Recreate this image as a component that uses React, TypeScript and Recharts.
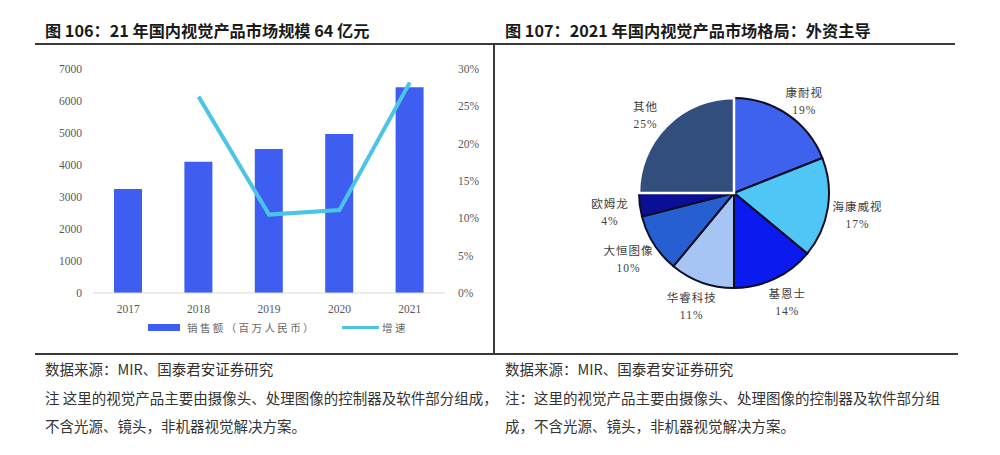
import React from "react";
import {
  Bar, Cell, ComposedChart, Legend, Line, Pie, PieChart, XAxis, YAxis,
} from "recharts";

// left chart: sales (million RMB) and growth (%)
const YEARS = ["2017", "2018", "2019", "2020", "2021"];
const SALES = [3250, 4100, 4500, 4970, 6430];
const GROWTH: (number | null)[] = [null, 26.3, 10.5, 11.1, 28.2];
const SALES_TICKS = [0, 1000, 2000, 3000, 4000, 5000, 6000, 7000];
const GROWTH_TICKS = [0, 5, 10, 15, 20, 25, 30];

// right chart: 2021 market share
const VENDORS = ["康耐视", "海康威视", "基恩士", "华睿科技", "大恒图像", "欧姆龙", "其他"];
const SHARES = [19, 17, 14, 11, 10, 4, 25];
const VENDOR_COLORS = ["#3E62EE", "#4FC6F5", "#0B1BF0", "#A6C5F4", "#2660D0", "#0A0F96", "#324E7C"];

const SERIF = '"Liberation Serif", "Noto Sans CJK SC", serif';
const SANS = '"Noto Sans CJK SC", "Noto Sans", sans-serif';

const barData = YEARS.map((y, i) => ({ year: y, sales: SALES[i], growth: GROWTH[i] }));
const pieData = VENDORS.map((v, i) => ({ name: v, value: SHARES[i] }));

const RAD = Math.PI / 180;

function LegendContent(props: any) {
  // bar swatch first, then the line
  const items = [...(props.payload ?? [])].sort(
    (a: any, b: any) => (a.type === "line" ? 1 : 0) - (b.type === "line" ? 1 : 0)
  );
  return (
    <div style={{ display: "flex", alignItems: "center", height: 20, paddingLeft: 148 }}>
      {items.map((it: any) => {
        const isLine = it.type === "line";
        return (
          <div key={it.value} style={{ display: "flex", alignItems: "center", marginRight: 26 }}>
            <span
              style={{
                width: isLine ? 37 : 32, height: isLine ? 3 : 7,
                background: it.color, display: "inline-block",
              }}
            />
            <span
              style={{
                fontFamily: SANS, fontSize: 10.5, color: "#666",
                marginLeft: isLine ? 3 : 7, letterSpacing: 2.4,
              }}
            >
              {it.value}
            </span>
          </div>
        );
      })}
    </div>
  );
}

// labels sit on a slightly wide ellipse round the pie, like the office-chart "outside end" labels
function PieLabel(props: any) {
  const { cx, cy, midAngle, outerRadius, name, value } = props;
  const x = cx + (outerRadius + 30) * Math.cos(-midAngle * RAD);
  const y = cy + (outerRadius + 21) * Math.sin(-midAngle * RAD) + 4;
  return (
    <text x={x} y={y} textAnchor="middle" fill="#404040" fontFamily={SERIF} fontSize={11.5} letterSpacing={1}>
      <tspan x={x} dy={-4}>{name}</tspan>
      <tspan x={x} dy={17}>{value}%</tspan>
    </text>
  );
}

const rule = (left: number, top: number, width: number, height: number) => (
  <div style={{ position: "absolute", left, top, width, height, background: "#3a3a3a" }} />
);

export default function App() {
  const titleStyle: React.CSSProperties = {
    position: "absolute", top: 19, fontFamily: SANS, fontWeight: 700, fontSize: 16.2,
    color: "#1a1a1a", whiteSpace: "nowrap", lineHeight: "22px",
  };
  const noteStyle: React.CSSProperties = {
    position: "absolute", fontFamily: SANS, fontSize: 14.5, color: "#333",
    lineHeight: "28.5px", whiteSpace: "pre",
  };
  return (
    <div style={{ position: "absolute", left: 0, top: 0, width: 1000, height: 455, background: "#fff", overflow: "hidden" }}>
      <div style={{ ...titleStyle, left: 45 }}>图 106：21 年国内视觉产品市场规模 64 亿元</div>
      <div style={{ ...titleStyle, left: 505 }}>图 107：2021 年国内视觉产品市场格局：外资主导</div>
      {rule(35, 43, 920, 1.5)}
      {rule(493, 43, 1.5, 311)}
      {rule(35, 353, 923, 1.5)}

      <div style={{ position: "absolute", left: 0, top: 50 }}>
        <ComposedChart width={500} height={300} data={barData} margin={{ top: 19, right: 0, left: 0, bottom: 13 }}>
          <XAxis
            dataKey="year" axisLine={{ stroke: "#d9d9d9" }} tickLine={false} tickMargin={6} height={24}
            tick={{ fontSize: 11.5, fill: "#595959", fontFamily: SERIF }}
          />
          <YAxis
            yAxisId="l" domain={[0, 7000]} ticks={SALES_TICKS} width={93} axisLine={false}
            tickLine={false} tickMargin={5} interval={0}
            tick={{ fontSize: 11.5, fill: "#595959", fontFamily: SERIF }}
          />
          <YAxis
            yAxisId="r" orientation="right" domain={[0, 30]} ticks={GROWTH_TICKS} width={55}
            axisLine={false} tickLine={false} tickMargin={7} interval={0}
            tickFormatter={(v: number) => `${v}%`}
            tick={{ fontSize: 11.5, fill: "#595959", fontFamily: SERIF, textAnchor: "start" }}
          />
          <Legend verticalAlign="bottom" content={<LegendContent />} />
          <Bar yAxisId="l" dataKey="sales" name="销售额（百万人民币）" fill="#3D5EF0" barSize={28} isAnimationActive={false} />
          <Line
            yAxisId="r" dataKey="growth" name="增速" stroke="#4CC4E6" strokeWidth={4} dot={false}
            type="linear" isAnimationActive={false} activeDot={false}
          />
        </ComposedChart>
      </div>

      <div style={{ position: "absolute", left: 495, top: 44 }}>
        <PieChart width={500} height={305}>
          <Pie
            data={pieData} dataKey="value" nameKey="name" cx={234} cy={144} outerRadius={95}
            startAngle={90} endAngle={-270} label={PieLabel} labelLine={false} isAnimationActive={false}
          >
            {pieData.map((d, i) => (
              <Cell
                key={d.name} fill={VENDOR_COLORS[i]}
                stroke={d.name === "其他" ? "#ffffff" : "#0d0d26"}
                strokeWidth={d.name === "其他" ? 2.5 : 2}
              />
            ))}
          </Pie>
        </PieChart>
      </div>

      <div style={{ ...noteStyle, left: 45, top: 355 }}>
        {"数据来源：MIR、国泰君安证券研究\n注 这里的视觉产品主要由摄像头、处理图像的控制器及软件部分组成，\n不含光源、镜头，非机器视觉解决方案。"}
      </div>
      <div style={{ ...noteStyle, left: 505, top: 355 }}>
        {"数据来源：MIR、国泰君安证券研究\n注：这里的视觉产品主要由摄像头、处理图像的控制器及软件部分组\n成，不含光源、镜头，非机器视觉解决方案。"}
      </div>
    </div>
  );
}
